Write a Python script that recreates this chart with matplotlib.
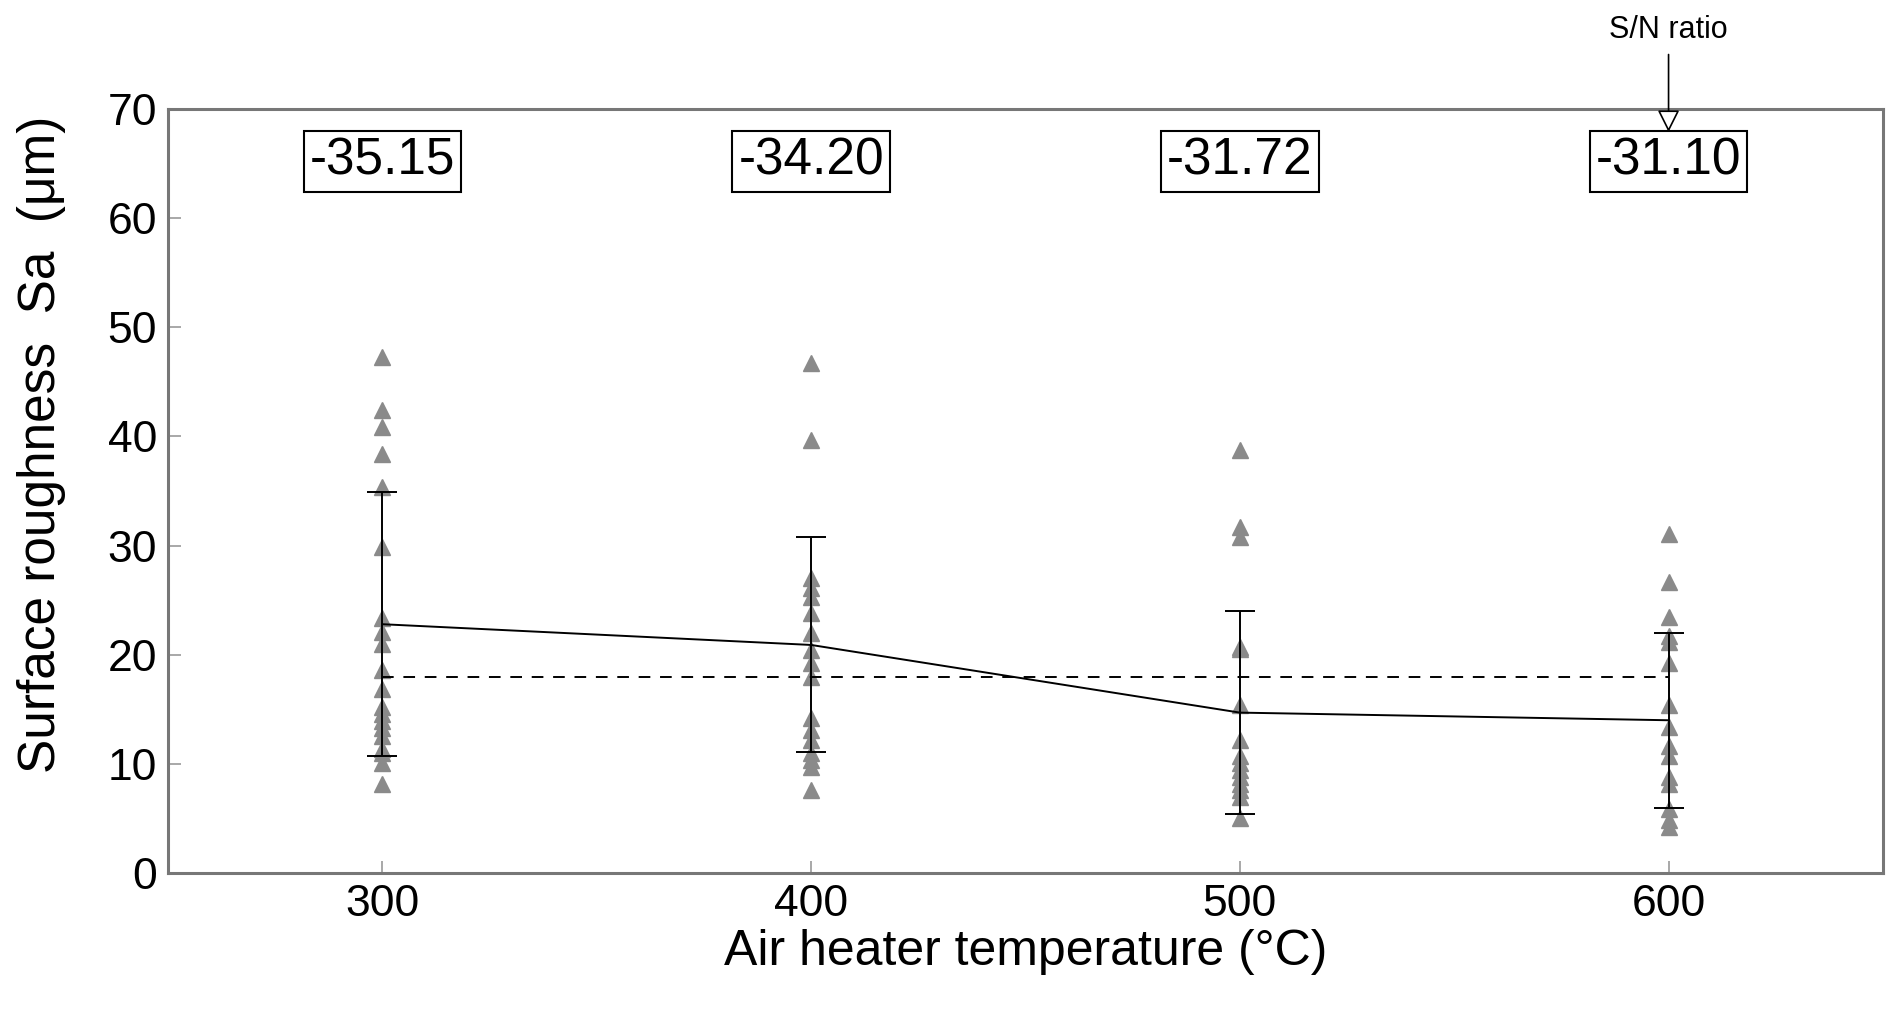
import matplotlib.pyplot as plt
import numpy as np

plt.rcParams['font.family'] = ['Liberation Sans', 'DejaVu Sans']

temps = [300, 400, 500, 600]
sa_300 = [47.3, 42.4, 40.9, 38.4, 35.4, 29.9, 23.4, 22.1, 21.0, 18.6, 16.9, 15.2,
          14.6, 13.9, 13.3, 12.6, 11.4, 11.0, 10.1, 8.2]
sa_400 = [46.7, 39.7, 27.0, 26.1, 25.3, 23.8, 22.0, 20.4, 19.2, 18.0, 14.2, 13.1,
          12.2, 11.0, 10.4, 9.7, 7.6]
sa_500 = [38.8, 31.7, 30.8, 20.7, 20.5, 15.4, 12.2, 10.7, 10.1, 9.4, 8.8, 8.2,
          7.6, 7.0, 5.0]
sa_600 = [31.1, 26.7, 23.5, 21.7, 21.2, 19.2, 15.4, 13.4, 11.6, 10.7, 8.8, 8.2,
          5.9, 4.9, 4.2]
means = [22.8, 20.9, 14.7, 14.0]
stds = [12.1, 9.85, 9.3, 8.0]
overall_mean = 18.0
sn_ratio = ['-35.15', '-34.20', '-31.72', '-31.10']

fig = plt.figure(figsize=(18.92, 10.10), dpi=100)
ax = fig.add_axes([0.0888, 0.1356, 0.9064, 0.7564])

for t, vals in zip(temps, [sa_300, sa_400, sa_500, sa_600]):
    ax.plot([t] * len(vals), vals, linestyle='none', marker='^', markersize=11,
            color='#8a8a8a', markeredgecolor='#8a8a8a', zorder=2)

ax.errorbar(temps, means, yerr=stds, color='black', linewidth=1.4,
            elinewidth=1.4, capsize=11, capthick=1.4, zorder=3)
ax.plot([temps[0], temps[-1]], [overall_mean, overall_mean], color='black',
        linestyle=(0, (6, 5)), linewidth=1.4, zorder=3)

for t, s in zip(temps, sn_ratio):
    ax.text(t, 65.2, s, ha='center', va='center', fontsize=37,
            bbox=dict(boxstyle='square,pad=0.12', facecolor='white',
                      edgecolor='black', linewidth=1.5))

ax.annotate('', xy=(600, 67.9), xytext=(600, 75.0),
            arrowprops=dict(arrowstyle='-|>', facecolor='white',
                            edgecolor='black', linewidth=1.2,
                            mutation_scale=34, shrinkA=0, shrinkB=0),
            annotation_clip=False)
ax.text(600, 75.9, 'S/N ratio', ha='center', va='bottom', fontsize=22)

ax.set_xlim(250, 650)
ax.set_ylim(0, 70)
ax.set_xticks(temps)
ax.set_yticks(np.arange(0, 71, 10))
ax.tick_params(direction='in', length=9, width=1.2, color='#999999',
               labelsize=32, pad=8)
for sp in ax.spines.values():
    sp.set_color('#777777')
    sp.set_linewidth(2.2)

ax.set_xlabel('Air heater temperature (°C)', fontsize=36, va='center')
ax.xaxis.set_label_coords(0.5, -0.104)
ax.set_ylabel('Surface roughness  Sa  (μm)', fontsize=37, va='center')
ax.yaxis.set_label_coords(-0.0735, 0.561)

fig.savefig('out.png', dpi=100, facecolor='white')
